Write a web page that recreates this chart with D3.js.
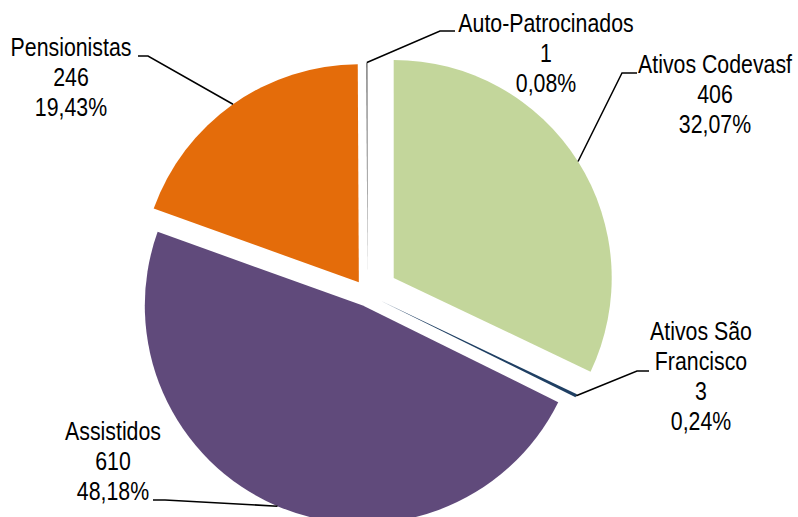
<!DOCTYPE html>
<html>
<head>
<meta charset="utf-8">
<script src="https://cdn.jsdelivr.net/npm/d3@7"></script>
<style>
  html, body { margin: 0; padding: 0; background: #ffffff; }
  svg { display: block; }
  text { font-family: "Liberation Sans", Arial, sans-serif; font-size: 26px; fill: #000; }
</style>
</head>
<body>
<svg id="chart" width="798" height="517"></svg>
<script>
// ---- data ----
const categories = ["Ativos Codevasf", "Ativos São Francisco", "Assistidos", "Pensionistas", "Auto-Patrocinados"];
const values = [406, 3, 610, 246, 1];
const percentLabels = ["32,07%", "0,24%", "48,18%", "19,43%", "0,08%"];

// ---- styling / layout (not data) ----
const colors = ["#c3d69b", "#1f3f63", "#604a7b", "#e46c0a", "#404040"];
const explode = [31, 14, 12, 15, 14];       // px offset of each slice along its bisector
const labelLines = [
  ["Ativos Codevasf"],
  ["Ativos São", "Francisco"],
  ["Assistidos"],
  ["Pensionistas"],
  ["Auto-Patrocinados"]
];
// label block: center x, first baseline y; leader knee & label-side end
const labelLayout = [
  { x: 715, y: 73,  knee: [622, 73],  end: [637, 73] },
  { x: 701, y: 340, knee: [637, 371], end: [649, 371] },
  { x: 113, y: 440, knee: [165, 500], end: [153, 500] },
  { x: 71,  y: 56,  knee: [148, 56],  end: [138, 56] },
  { x: 546, y: 32,  knee: [440, 31],  end: [455, 31] }
];

const W = 798, H = 517;
const cx = 367.5, cy = 294.5, R = 218;
const lineH = 30;
const narrow = 0.82;

const svg = d3.select("#chart");

const pie = d3.pie().sort(null).value(d => d.value).startAngle(0).endAngle(2 * Math.PI);
const data = categories.map((c, i) => ({ name: c, value: values[i], i }));
const arcs = pie(data);
const arc = d3.arc().innerRadius(0).outerRadius(R);

function sliceCenter(a) {
  const mid = (a.startAngle + a.endAngle) / 2;
  const d = explode[a.data.i];
  return [cx + d * Math.sin(mid), cy - d * Math.cos(mid)];
}

const g = svg.append("g");
g.selectAll("path.slice")
  .data(arcs)
  .join("path")
  .attr("class", "slice")
  .attr("transform", a => { const c = sliceCenter(a); return `translate(${c[0]},${c[1]})`; })
  .attr("d", arc)
  .attr("fill", a => colors[a.data.i]);

// leader lines
const leaders = svg.append("g");
arcs.forEach(a => {
  const i = a.data.i;
  const mid = (a.startAngle + a.endAngle) / 2;
  const c = sliceCenter(a);
  const p = [c[0] + R * Math.sin(mid), c[1] - R * Math.cos(mid)];
  const L = labelLayout[i];
  leaders.append("path")
    .attr("d", d3.line()([p, L.knee, L.end]))
    .attr("fill", "none")
    .attr("stroke", "#000")
    .attr("stroke-width", 1.5);
});

// labels
const labels = svg.append("g");
arcs.forEach(a => {
  const i = a.data.i;
  const L = labelLayout[i];
  const lines = labelLines[i].concat([String(values[i]), percentLabels[i]]);
  const t = labels.append("g").attr("transform", `translate(${L.x},${L.y}) scale(${narrow},1)`);
  lines.forEach((s, k) => {
    t.append("text")
      .attr("x", 0)
      .attr("y", k * lineH)
      .attr("text-anchor", "middle")
      .text(s);
  });
});
</script>
</body>
</html>
